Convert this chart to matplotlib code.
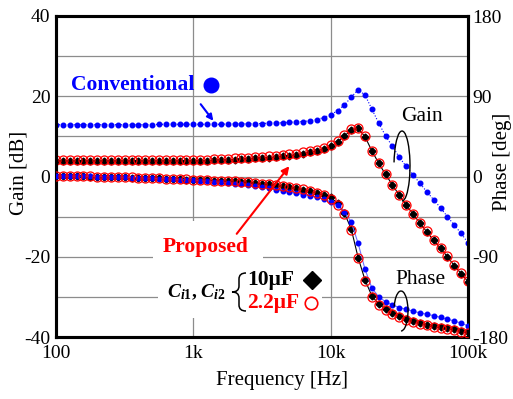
import matplotlib
matplotlib.use('Agg')
import matplotlib.pyplot as plt
from matplotlib.patches import Arc, Rectangle, FancyArrowPatch, PathPatch
from matplotlib.path import Path
from matplotlib.lines import Line2D

plt.rcParams['font.family'] = ['Liberation Serif', 'DejaVu Serif']
plt.rcParams['axes.unicode_minus'] = False
plt.rcParams['mathtext.fontset'] = 'custom'
plt.rcParams['mathtext.it'] = 'Liberation Serif:italic:bold'
plt.rcParams['mathtext.rm'] = 'Liberation Serif:bold'

# Frequency points (20 per decade)
freq = [100, 112.2, 125.9, 141.3, 158.5, 177.8, 199.5, 223.9, 251.2, 281.8,
        316.2, 354.8, 398.1, 446.7, 501.2, 562.3, 631.0, 707.9, 794.3, 891.3,
        1000, 1122, 1259, 1413, 1585, 1778, 1995, 2239, 2512, 2818,
        3162, 3548, 3981, 4467, 5012, 5623, 6310, 7079, 7943, 8913,
        10000, 11220, 12589, 14125, 15849, 17783, 19953, 22387, 25119, 28184,
        31623, 35481, 39811, 44668, 50119, 56234, 63096, 70795, 79433, 89125,
        100000]

# Conventional (blue)
gain_conv = [12.9, 12.9, 12.9, 12.9, 12.9, 12.9, 12.9, 12.9, 12.9, 12.9,
             12.9, 12.9, 12.9, 12.9, 12.9, 13.0, 13.0, 13.0, 13.0, 13.0,
             13.0, 13.0, 13.0, 13.0, 13.0, 13.1, 13.1, 13.1, 13.1, 13.2,
             13.2, 13.3, 13.3, 13.4, 13.5, 13.6, 13.7, 13.9, 14.2, 14.7,
             15.4, 16.4, 17.8, 19.8, 21.6, 20.3, 16.8, 13.3, 10.1, 7.5,
             4.8, 2.5, 0.4, -1.7, -3.8, -5.8, -7.8, -10.0, -12.1, -14.2,
             -16.5]
phase_conv = [0.5, 0.45, 0.4, 0.3, 0.2, 0.1, 0.0, -0.2, -0.4, -0.6,
              -0.9, -1.2, -1.5, -1.8, -2.1, -2.4, -2.8, -3.1, -3.5, -3.8,
              -4.2, -4.7, -5.3, -5.9, -6.6, -7.3, -8.0, -8.8, -9.8, -10.8,
              -12.0, -13.3, -14.8, -16.2, -17.6, -18.9, -20.2, -21.6, -23.2, -25.3,
              -28.3, -32.5, -39.5, -51, -75, -104, -125, -135, -140.5, -144,
              -147, -149, -151, -153, -154.5, -156, -158, -160, -162, -164.5,
              -167.5]

# Proposed, Ci1 = Ci2 = 10uF (black)
gain_10u = [3.8, 3.8, 3.8, 3.8, 3.8, 3.8, 3.8, 3.8, 3.8, 3.8,
            3.8, 3.8, 3.8, 3.8, 3.8, 3.8, 3.8, 3.8, 3.8, 3.8,
            3.8, 3.9, 3.9, 4.0, 4.0, 4.1, 4.2, 4.3, 4.4, 4.5,
            4.6, 4.7, 4.8, 5.0, 5.2, 5.4, 5.7, 6.0, 6.4, 6.9,
            7.5, 8.6, 10.1, 11.6, 12.0, 9.9, 6.4, 3.3, 0.5, -2.1,
            -4.7, -7.1, -9.4, -11.6, -13.8, -15.9, -17.9, -20.0, -22.2, -24.2,
            -26.2]
phase_10u = [0.5, 0.4, 0.3, 0.2, 0.1, 0.0, -0.2, -0.4, -0.6, -0.8,
             -1.0, -1.2, -1.4, -1.6, -1.9, -2.2, -2.5, -2.8, -3.1, -3.4,
             -3.7, -4.0, -4.3, -4.6, -4.9, -5.2, -5.5, -6.0, -6.6, -7.2,
             -8.0, -8.9, -9.9, -11.0, -12.0, -13.3, -14.6, -16.2, -18.2, -20.5,
             -23.5, -30, -41, -59, -91, -116, -134, -143, -149, -153.5,
             -157, -160, -162, -164, -166, -167.5, -168.5, -170, -171.5, -173,
             -174]

# Proposed, Ci1 = Ci2 = 2.2uF (red)
gain_2u2 = [4.1, 4.1, 4.1, 4.1, 4.1, 4.1, 4.1, 4.1, 4.1, 4.1,
            4.1, 4.1, 4.1, 4.1, 4.1, 4.1, 4.1, 4.1, 4.1, 4.1,
            4.1, 4.2, 4.2, 4.3, 4.3, 4.4, 4.5, 4.6, 4.7, 4.8,
            4.9, 5.0, 5.1, 5.3, 5.5, 5.7, 6.0, 6.3, 6.7, 7.2,
            7.8, 8.9, 10.4, 11.9, 12.2, 10.0, 6.4, 3.3, 0.5, -2.1,
            -4.6, -7.0, -9.3, -11.5, -13.7, -15.8, -17.8, -19.9, -22.1, -24.1,
            -26.1]
phase_2u2 = [0.6, 0.5, 0.4, 0.3, 0.2, 0.1, -0.1, -0.3, -0.5, -0.7,
             -0.9, -1.1, -1.3, -1.5, -1.8, -2.1, -2.4, -2.7, -3.0, -3.3,
             -3.6, -3.9, -4.2, -4.5, -4.8, -5.1, -5.4, -5.9, -6.5, -7.1,
             -7.9, -8.8, -9.8, -10.9, -11.9, -13.2, -14.5, -16.1, -18.2, -21.0,
             -25.0, -32, -42, -60, -91, -117, -135, -144, -150, -154.5,
             -158, -161, -163, -165, -167, -168.5, -169.5, -171, -172.5, -174,
             -175]

W, H = 513, 399
fig = plt.figure(figsize=(W / 100, H / 100), dpi=100)
ax = fig.add_axes([56 / W, 1 - 337 / H, 412 / W, 321 / H])
ax2 = ax.twinx()


def fp(x, y):
    # image pixel -> figure fraction
    return (x / W, 1 - y / H)


# Gain curves
ax.plot(freq, gain_10u, color='black', lw=0.8, marker='D', ms=3.5, zorder=3)
ax.plot(freq, gain_conv, color='blue', lw=0.8, ls=':', marker='o', ms=3.3,
        mec='blue', mfc='blue', zorder=4)
ax.plot(freq, gain_2u2, ls='none', marker='o', ms=6.5, mfc='none', mec='red',
        mew=0.9, zorder=5)

# Phase curves
ax2.plot(freq, phase_10u, color='black', lw=0.8, marker='D', ms=3.5, zorder=3)
ax2.plot(freq, phase_conv, color='#6f6fff', lw=0.8, marker='o', ms=3.3,
         mec='blue', mfc='blue', zorder=4)
ax2.plot(freq, phase_2u2, ls='none', marker='o', ms=6.5, mfc='none', mec='red',
         mew=0.9, zorder=5)

ax.set_xscale('log')
ax.set_xlim(100, 100000)
ax.set_ylim(-40, 40)
ax2.set_ylim(-180, 180)
ax.set_xticks([100, 1000, 10000, 100000])
ax.set_xticklabels(['100', '1k', '10k', '100k'])
ax.xaxis.set_minor_locator(matplotlib.ticker.NullLocator())
ax.set_yticks([-40, -20, 0, 20, 40])
ax.set_yticks([-30, -10, 10, 30], minor=True)
ax2.set_yticks([-180, -90, 0, 90, 180])
ax.grid(True, which='both', color='#8c8c8c', lw=0.9)
ax.tick_params(axis='both', which='both', direction='in', length=0, labelsize=14)
ax.tick_params(axis='x', pad=6)
ax.tick_params(axis='y', pad=4)
ax2.tick_params(direction='in', length=0, labelsize=14, pad=3)
for a in (ax, ax2):
    for s in a.spines.values():
        s.set_linewidth(2.2)

# Axis titles
fig.text(*fp(282, 381), 'Frequency [Hz]', fontsize=15, ha='center', va='center')
fig.text(*fp(19, 173), 'Gain [dB]', fontsize=15, rotation=90,
         ha='center', va='center')
fig.text(*fp(502, 162), 'Phase [deg]', fontsize=15, rotation=90,
         ha='center', va='center')

# White area behind the legend block (covers the grid)
fig.add_artist(Rectangle(fp(153, 265), 110 / W, 44 / H, transform=fig.transFigure,
                         fc='white', ec='none', zorder=0.5))
fig.add_artist(Rectangle(fp(158, 318), 164 / W, 53 / H, transform=fig.transFigure,
                         fc='white', ec='none', zorder=0.5))

# Annotations
fig.text(*fp(133, 85), 'Conventional', color='blue', fontsize=15.5,
         fontweight='bold', ha='center', va='center')
fig.add_artist(Line2D([210.5 / W], [1 - 85 / H], marker='o', ms=10.5,
                      color='blue', transform=fig.transFigure))
fig.add_artist(FancyArrowPatch(
    fp(199, 102), fp(215, 123), transform=fig.transFigure, color='blue',
    arrowstyle='-|>', mutation_scale=9, lw=1.5, zorder=2))

fig.text(*fp(206, 247), 'Proposed', color='red', fontsize=15.5,
         fontweight='bold', ha='center', va='center')
fig.add_artist(FancyArrowPatch(
    fp(235, 236), fp(291, 164), transform=fig.transFigure, color='red',
    arrowstyle='-|>', mutation_scale=11, lw=1.5, zorder=2))

fig.text(*fp(422, 117), 'Gain', fontsize=15.5, ha='center', va='center')
fig.add_artist(Arc(fp(402, 166), 16 / W, 70 / H, theta1=-90, theta2=150,
                   transform=fig.transFigure, lw=1.0, color='black', zorder=2))
fig.text(*fp(421, 279), 'Phase', fontsize=15.5, ha='center', va='center',
         bbox=dict(fc='white', ec='none', pad=0.5))
fig.add_artist(Arc(fp(401, 311), 14 / W, 40 / H, theta1=-90, theta2=140,
                   transform=fig.transFigure, lw=1.0, color='black', zorder=2))

fig.text(*fp(226, 292), r'$C_{i1}$, $C_{i2}$', fontsize=14, fontweight='bold',
         ha='right', va='center')

# Curly brace drawn as a path
brace_pts = [fp(246, 273), fp(239, 273), fp(239, 279),
             fp(239, 286), fp(239, 292), fp(232, 292),
             fp(239, 292), fp(239, 298), fp(239, 305),
             fp(239, 311), fp(246, 311)]
brace_codes = [Path.MOVETO, Path.CURVE3, Path.CURVE3,
               Path.LINETO, Path.CURVE3, Path.CURVE3,
               Path.CURVE3, Path.CURVE3, Path.LINETO,
               Path.CURVE3, Path.CURVE3]
fig.add_artist(PathPatch(Path(brace_pts, brace_codes), transform=fig.transFigure,
                         fc='none', ec='black', lw=1.1, zorder=2))

fig.text(*fp(247, 280), '10\u03bcF', fontsize=15.5, fontweight='bold',
         ha='left', va='center')
fig.text(*fp(247, 303), '2.2\u03bcF', fontsize=15.5, fontweight='bold',
         color='red', ha='left', va='center')
fig.add_artist(Line2D([312 / W], [1 - 280 / H], marker='D', ms=9.5,
                      color='black', transform=fig.transFigure))
fig.add_artist(Line2D([311 / W], [1 - 303 / H], marker='o', ms=9, mfc='none',
                      mec='red', mew=1.2, transform=fig.transFigure))

fig.savefig('out.png', dpi=100)
